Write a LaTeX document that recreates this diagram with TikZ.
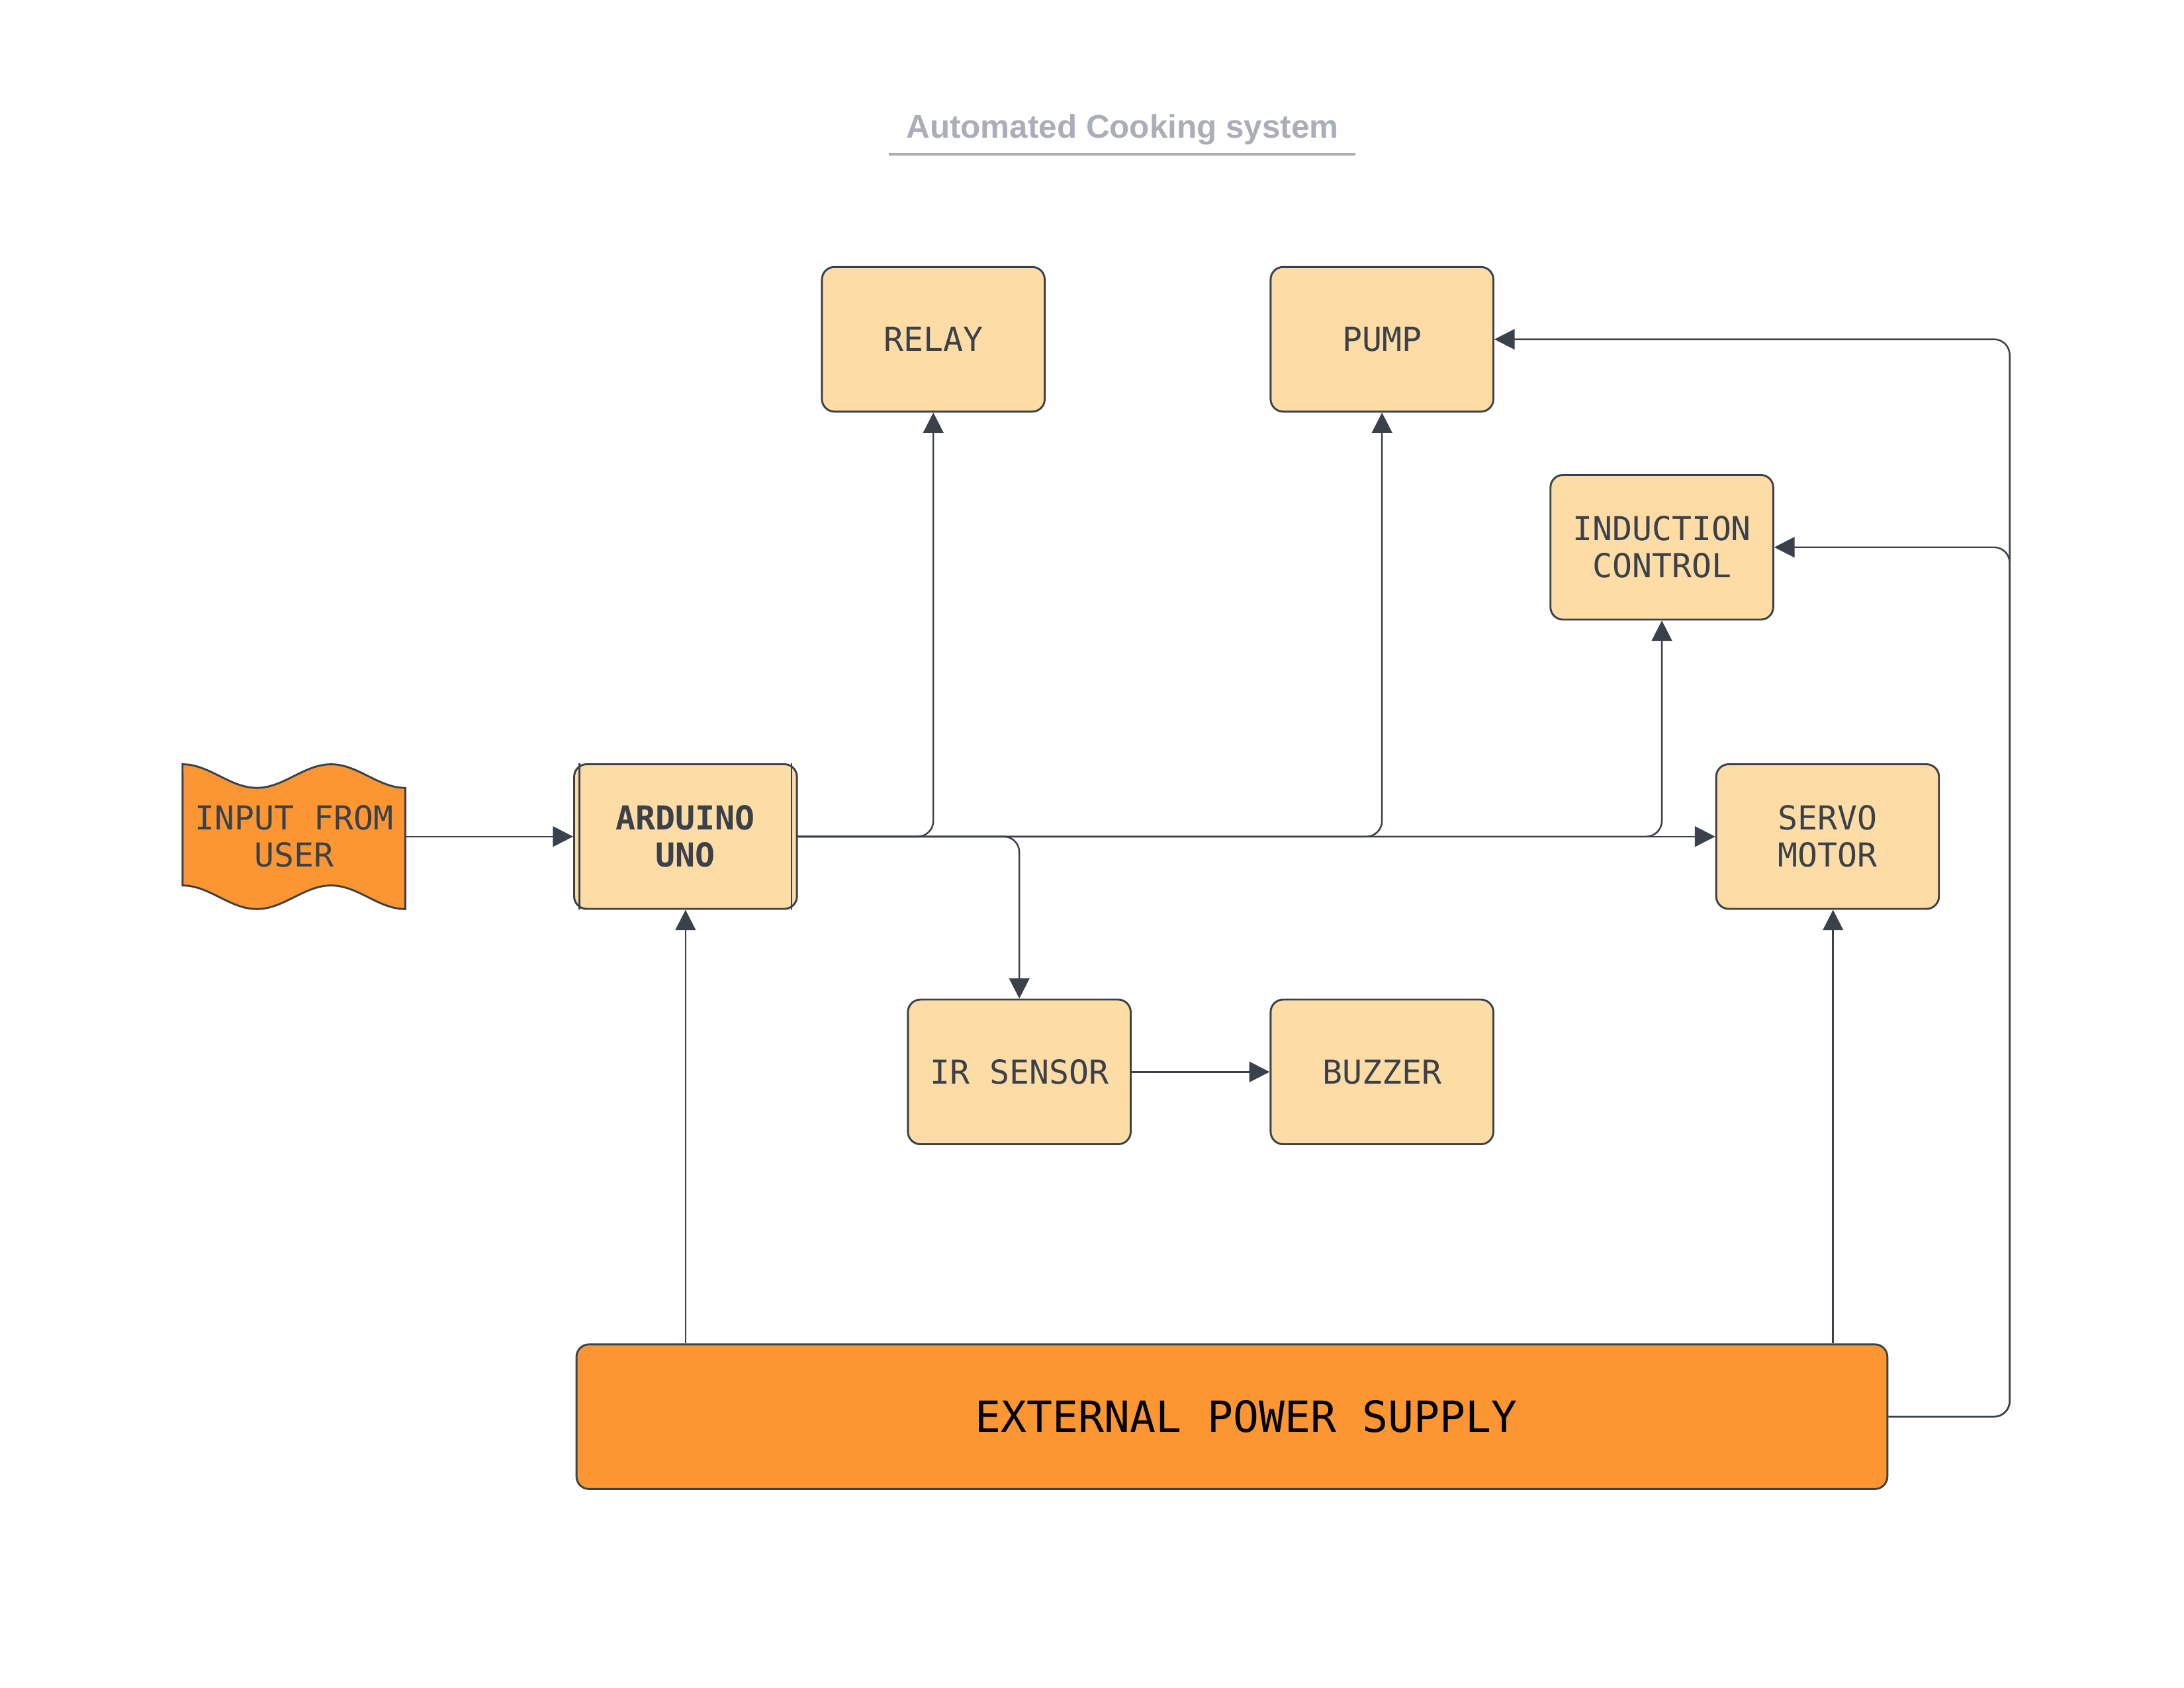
\documentclass[tikz,border=0pt]{standalone}
\usepackage{fontspec}
\setmainfont{Liberation Sans}
\setmonofont{DejaVu Sans Mono}
\usepackage{tikz}
\usetikzlibrary{shapes,arrows.meta}
\usetikzlibrary{calc}

\definecolor{boxfill}{HTML}{FDDCA6}
\definecolor{supplyfill}{HTML}{FB9633}
\definecolor{linecol}{HTML}{3A414A}
\definecolor{titlecol}{HTML}{A9AEB8}

\begin{document}
\begin{tikzpicture}[
	block/.style={draw=linecol,line width=0.7pt,fill=boxfill,rounded corners=0.16cm,minimum width=2.85cm,minimum height=1.85cm,align=center,text=linecol,font=\ttfamily\fontsize{12}{13.5}\selectfont},
	supply/.style={block,fill=supplyfill,minimum width=16.77cm,text=black,font=\ttfamily\fontsize{15.6}{18}\selectfont},
	wire/.style={draw=linecol,line width=0.6pt,rounded corners=0.2cm,-{Triangle[length=2.6mm,width=2.6mm]}}
	]
	\useasboundingbox (0,0) rectangle (27.94,21.59);
	
	\node[font=\bfseries\fontsize{11.9}{14}\selectfont,text=titlecol] (title) at (14.36,19.93) {Automated Cooking system};
	\draw[titlecol,line width=1pt] (11.37,19.62) -- (17.34,19.62);
	
	\draw[linecol,fill=supplyfill,line width=0.7pt]
		plot[domain=0:1,samples=40] ({2.335+2.85*\x},{11.815-0.1515*(1-cos(540*\x))})
		-- plot[domain=1:0,samples=40] ({2.335+2.85*\x},{10.265-0.1515*(1-cos(540*\x))}) -- cycle;
	\node[minimum width=2.85cm,minimum height=1.85cm,align=center,text=linecol,font=\ttfamily\fontsize{12}{13.5}\selectfont] (input) at (3.76,10.89) {INPUT FROM\\USER};
	
	\node[block] (arduino) at (8.77,10.89) {\bfseries ARDUINO\\\bfseries UNO};
	\draw[linecol,line width=0.5pt] ([xshift=0.08cm]arduino.north west) -- ([xshift=0.08cm]arduino.south west);
	\draw[linecol,line width=0.5pt] ([xshift=-0.08cm]arduino.north east) -- ([xshift=-0.08cm]arduino.south east);
	
	\node[block] (relay) at (11.94,17.25) {RELAY};
	\node[block] (pump) at (17.68,17.25) {PUMP};
	\node[block] (induction) at (21.26,14.59) {INDUCTION\\CONTROL};
	\node[block] (servo) at (23.38,10.89) {SERVO\\MOTOR};
	\node[block] (irsensor) at (13.04,7.88) {IR SENSOR};
	\node[block] (buzzer) at (17.68,7.88) {BUZZER};
	\node[supply] (supply) at (15.76,3.47) {\hspace{0.36cm}EXTERNAL POWER SUPPLY};
	\coordinate (rail) at (25.71,0);
	
	\draw[wire] (input) -- (arduino);
	\draw[wire] (arduino.east) -| (relay.south);
	\draw[wire] (arduino.east) -| (pump.south);
	\draw[wire] (arduino.east) -| (induction.south);
	\draw[wire] (arduino.east) -- (servo.west);
	\draw[wire] (arduino.east) -| (irsensor.north);
	\draw[wire] (irsensor) -- (buzzer);
	\draw[wire] (supply.north -| arduino) -- (arduino.south);
	\draw[wire] ([xshift=0.07cm]supply.north -| servo) -- ([xshift=0.07cm]servo.south);
	\draw[wire] (supply.east) -- (supply.east -| rail) -- (rail |- pump.east) -- (pump.east);
	\draw[wire] (supply.east) -- (supply.east -| rail) -- (rail |- induction.east) -- (induction.east);
\end{tikzpicture}
\end{document}
